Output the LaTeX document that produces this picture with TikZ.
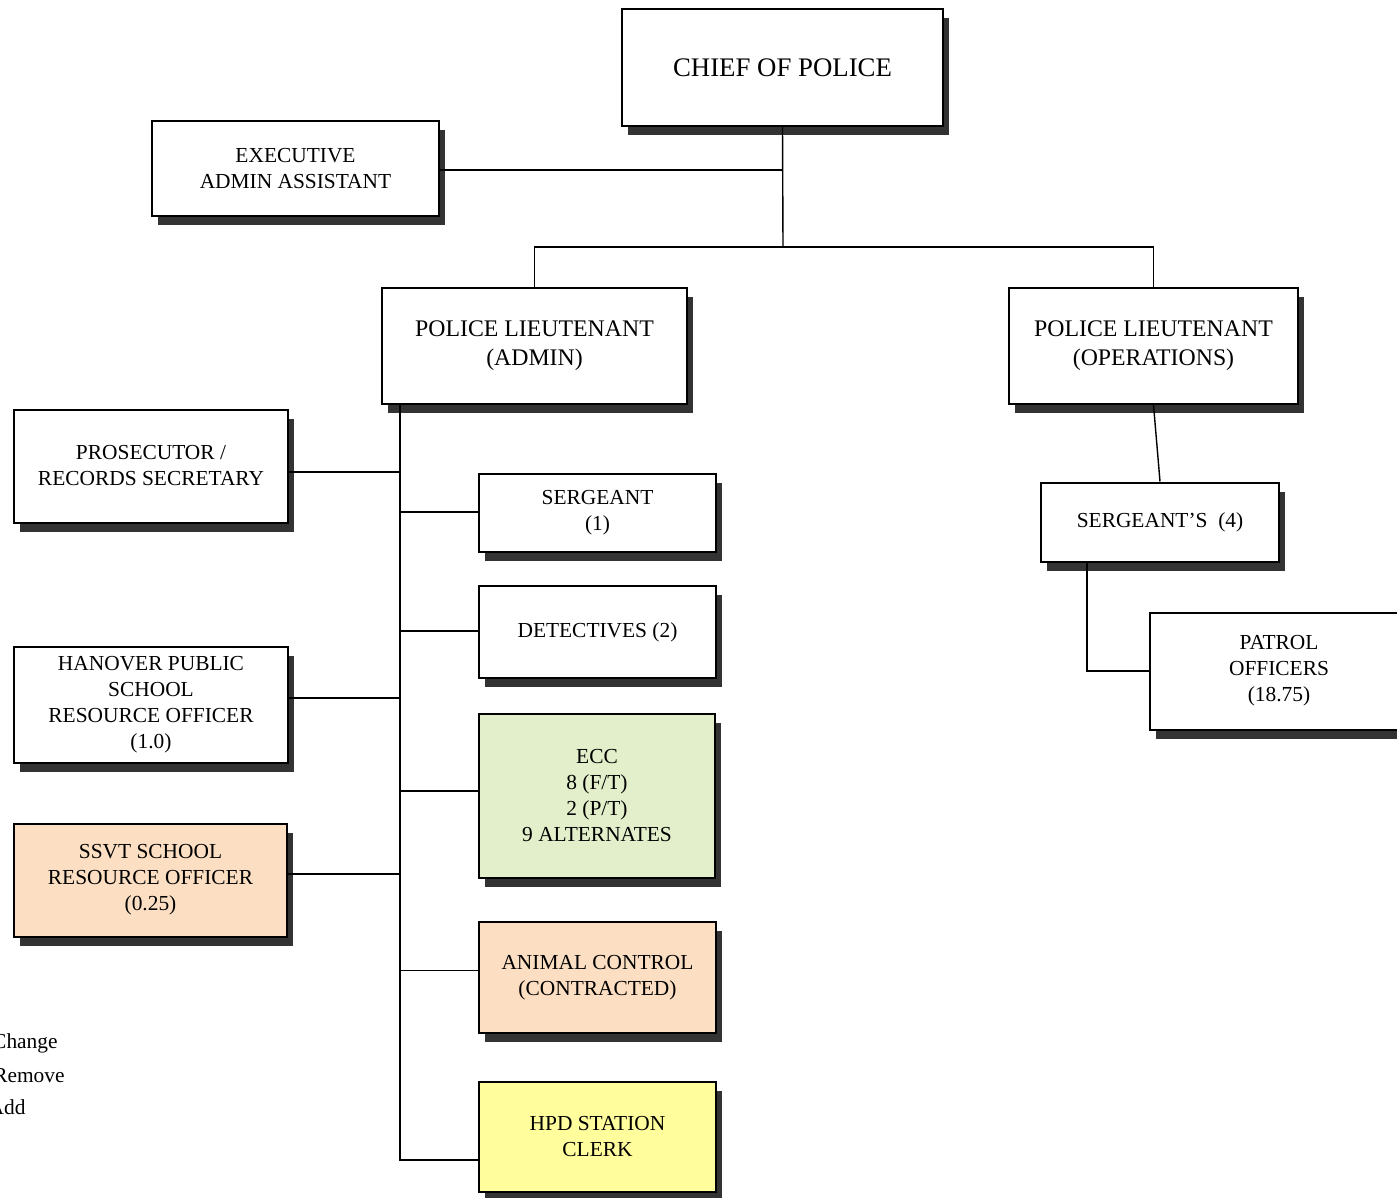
\documentclass[tikz,border=0pt]{standalone}
\usepackage{fontspec}
\setmainfont{Liberation Serif}
\usetikzlibrary{shadows,backgrounds}
\definecolor{eccgreen}{HTML}{E2EFCA}
\definecolor{peach}{HTML}{FCDFC2}
\definecolor{paleyellow}{HTML}{FFFD9C}
\begin{document}
\begin{tikzpicture}[x=0.5pt,y=-0.5pt,
  box/.style={draw=black, line width=1pt, fill=white, align=center, inner sep=0pt,
    font=\fontsize{10.7}{13}\selectfont,
    drop shadow={shadow xshift=3pt, shadow yshift=-4.5pt, fill=black, opacity=0.8}},
  link/.style={draw=black, line width=0.7pt},
  legend/.style={anchor=east, inner sep=0pt, font=\fontsize{10.7}{13}\selectfont}]
\useasboundingbox (0,0) rectangle (1397,1198);
\clip (0,0) rectangle (1397,1198);

\node[box, minimum width=160.5pt, minimum height=58.5pt, font=\fontsize{13.4}{16}\selectfont] (chief) at (782.5,67.5) {CHIEF OF POLICE};
\node[box, minimum width=143.5pt, minimum height=47.5pt] (exec) at (295.5,169) {EXECUTIVE\\ADMIN ASSISTANT};
\node[box, minimum width=152.5pt, minimum height=58pt, font=\fontsize{11.9}{14.5}\selectfont] (lta) at (534.5,346) {POLICE LIEUTENANT\\(ADMIN)};
\node[box, minimum width=144.5pt, minimum height=58pt, font=\fontsize{11.9}{14.5}\selectfont] (lto) at (1153.5,346) {POLICE LIEUTENANT\\(OPERATIONS)};
\node[box, minimum width=137pt, minimum height=56.5pt] (pros) at (151,466) {PROSECUTOR /\\RECORDS SECRETARY};
\node[box, minimum width=118.5pt, minimum height=39pt] (sgt) at (597.5,513) {SERGEANT\\(1)};
\node[box, minimum width=118.5pt, minimum height=46pt] (det) at (597.5,632) {DETECTIVES (2)};
\node[box, minimum width=137pt, minimum height=58pt] (han) at (151,705) {HANOVER PUBLIC\\SCHOOL\\RESOURCE OFFICER\\(1.0)};
\node[box, fill=eccgreen, minimum width=118pt, minimum height=82pt] (ecc) at (597,796) {ECC\\8 (F/T)\\2 (P/T)\\9 ALTERNATES};
\node[box, fill=peach, minimum width=136.5pt, minimum height=56.5pt] (ssvt) at (150.5,880) {SSVT SCHOOL\\RESOURCE OFFICER\\(0.25)};
\node[box, fill=peach, minimum width=118.5pt, minimum height=55.5pt] (ani) at (597.5,977.5) {ANIMAL CONTROL\\(CONTRACTED)};
\node[box, fill=paleyellow, minimum width=118.5pt, minimum height=55pt] (hpd) at (597.5,1137) {HPD STATION\\CLERK};
\node[box, minimum width=119pt, minimum height=39.5pt] (sgts) at (1160,522) {SERGEANT'S~~(4)};
\node[box, minimum width=129pt, minimum height=58.5pt] (pat) at (1279,671) {PATROL\\OFFICERS\\(18.75)};

\node[legend] (lg1) at (58,1043) {Change};
\node[legend] (lg2) at (65,1076) {Remove};
\node[legend] (lg3) at (26,1107) {Add};

\begin{scope}[on background layer]
\fill[white] (0,0) rectangle (1397,1198);
\coordinate (J) at (783,247);
\coordinate (T) at (400,402);
\draw[link] (chief.south) -- (J);
\draw[link] ([yshift=-0.5pt]exec.east) -- ([yshift=-0.5pt]exec.east -| chief.south);
\draw[link] (lta.north) |- (J) -| (lto.north);
\draw[link] (T) |- ([yshift=-11.5pt]hpd.west);
\draw[link] ([yshift=-3pt]pros.east) -- ([yshift=-3pt]pros.east -| T);
\draw[link] ([yshift=0.5pt]sgt.west) -- ([yshift=0.5pt]sgt.west -| T);
\draw[link] ([yshift=0.5pt]det.west) -- ([yshift=0.5pt]det.west -| T);
\draw[link] ([yshift=3.5pt]han.east) -- ([yshift=3.5pt]han.east -| T);
\draw[link] ([yshift=2.5pt]ecc.west) -- ([yshift=2.5pt]ecc.west -| T);
\draw[link] ([yshift=3pt]ssvt.east) -- ([yshift=3pt]ssvt.east -| T);
\draw[link] ([yshift=3.5pt]ani.west) -- ([yshift=3.5pt]ani.west -| T);
\draw[link] (lto.south) -- (sgts.north);
\draw[link] ([xshift=-36.5pt]sgts.south) |- (pat.west);
\end{scope}
\end{tikzpicture}
\end{document}
